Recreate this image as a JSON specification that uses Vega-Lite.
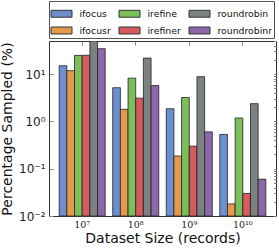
{
  "$schema": "https://vega.github.io/schema/vega-lite/v6.json",
  "autosize": "none",
  "width": 227,
  "height": 175,
  "padding": {"left": 49, "top": 41, "right": 3, "bottom": 34},
  "background": "white",
  "config": {
    "view": {"stroke": "#333", "strokeWidth": 1},
    "axis": {"domain": false, "grid": false, "tickColor": "#888", "tickWidth": 1}
  },
  "data": {
    "values": [
      {"size": "10⁷", "method": "ifocus", "value": 15},
      {"size": "10⁷", "method": "ifocusr", "value": 11.8},
      {"size": "10⁷", "method": "irefine", "value": 24.8},
      {"size": "10⁷", "method": "irefiner", "value": 25},
      {"size": "10⁷", "method": "roundrobin", "value": 50},
      {"size": "10⁷", "method": "roundrobinr", "value": 34.4},
      {"size": "10⁸", "method": "ifocus", "value": 5.15},
      {"size": "10⁸", "method": "ifocusr", "value": 1.8},
      {"size": "10⁸", "method": "irefine", "value": 8.2},
      {"size": "10⁸", "method": "irefiner", "value": 3.1},
      {"size": "10⁸", "method": "roundrobin", "value": 21.8},
      {"size": "10⁸", "method": "roundrobinr", "value": 5.7},
      {"size": "10⁹", "method": "ifocus", "value": 1.85},
      {"size": "10⁹", "method": "ifocusr", "value": 0.185},
      {"size": "10⁹", "method": "irefine", "value": 3.2},
      {"size": "10⁹", "method": "irefiner", "value": 0.3},
      {"size": "10⁹", "method": "roundrobin", "value": 8.8},
      {"size": "10⁹", "method": "roundrobinr", "value": 0.6},
      {"size": "10¹⁰", "method": "ifocus", "value": 0.53},
      {"size": "10¹⁰", "method": "ifocusr", "value": 0.018},
      {"size": "10¹⁰", "method": "irefine", "value": 1.18},
      {"size": "10¹⁰", "method": "irefiner", "value": 0.03},
      {"size": "10¹⁰", "method": "roundrobin", "value": 2.37},
      {"size": "10¹⁰", "method": "roundrobinr", "value": 0.06}
    ]
  },
  "layer": [
    {
      "mark": {"type": "bar", "stroke": "#222", "strokeWidth": 0.8, "clip": true, "opacity": 1},
      "encoding": {
        "x": {
          "field": "size", "type": "nominal", "sort": null,
          "scale": {"paddingInner": 0.14, "paddingOuter": 0.19},
          "axis": {
            "orient": "bottom", "title": "Dataset Size (records)", "labelAngle": 0,
            "labelFont": "DejaVu Serif", "labelFontSize": 9.5, "labelColor": "#222",
            "tickSize": -4, "labelPadding": 7,
            "titleFont": "DejaVu Sans", "titleFontSize": 14, "titleFontWeight": "normal", "titleColor": "#111", "titlePadding": 3
          }
        },
        "xOffset": {
          "field": "method", "type": "nominal",
          "sort": ["ifocus", "ifocusr", "irefine", "irefiner", "roundrobin", "roundrobinr"],
          "scale": {"paddingInner": 0, "paddingOuter": 0}
        },
        "y": {
          "field": "value", "type": "quantitative", "stack": null,
          "scale": {"type": "log", "domain": [0.01, 50], "nice": false},
          "axis": {
            "orient": "left", "title": "Percentage Sampled (%)",
            "values": [0.01, 0.1, 1, 10],
            "labelExpr": "datum.value == 10 ? '10¹' : datum.value == 1 ? '10⁰' : datum.value == 0.1 ? '10⁻¹' : '10⁻²'",
            "labelFont": "DejaVu Sans", "labelFontSize": 12, "labelColor": "#222",
            "tickSize": -4, "labelPadding": 8,
            "titleFont": "DejaVu Sans", "titleFontSize": 14, "titleFontWeight": "normal", "titleColor": "#111", "titlePadding": 4
          }
        },
        "color": {
          "field": "method", "type": "nominal",
          "scale": {
            "domain": ["ifocus", "irefine", "roundrobin", "ifocusr", "irefiner", "roundrobinr"],
            "range": ["#6d8fcf", "#7bbf5a", "#7c8282", "#e59a4b", "#d65a5e", "#8c68aa"]
          },
          "legend": {
            "orient": "none", "legendX": 0, "legendY": -40,
            "direction": "horizontal", "columns": 3, "title": null,
            "strokeColor": "#555", "fillColor": "white", "padding": 1.5,
            "symbolType": "M-1,-0.33H1V0.33H-1Z", "symbolSize": 441,
            "symbolStrokeColor": "#333", "symbolStrokeWidth": 1, "symbolOpacity": 1,
            "labelFont": "DejaVu Sans", "labelFontSize": 9.3, "labelColor": "#111",
            "labelOffset": 7, "columnPadding": 5, "rowPadding": -7.5
          }
        }
      }
    },
    {
      "mark": {"type": "bar", "opacity": 0},
      "encoding": {
        "x": {
          "field": "size", "type": "nominal", "sort": null,
          "axis": {"orient": "top", "title": null, "labels": false, "tickSize": -4}
        },
        "y": {
          "field": "value", "type": "quantitative", "stack": null,
          "axis": {
            "orient": "right", "title": null, "labels": false,
            "values": [0.01, 0.02, 0.03, 0.04, 0.05, 0.06, 0.07, 0.08, 0.09, 0.1, 0.2, 0.3, 0.4, 0.5, 0.6, 0.7, 0.8, 0.9, 1, 2, 3, 4, 5, 6, 7, 8, 9, 10, 20, 30, 40, 50],
            "tickSize": -2.5
          }
        }
      }
    }
  ]
}
